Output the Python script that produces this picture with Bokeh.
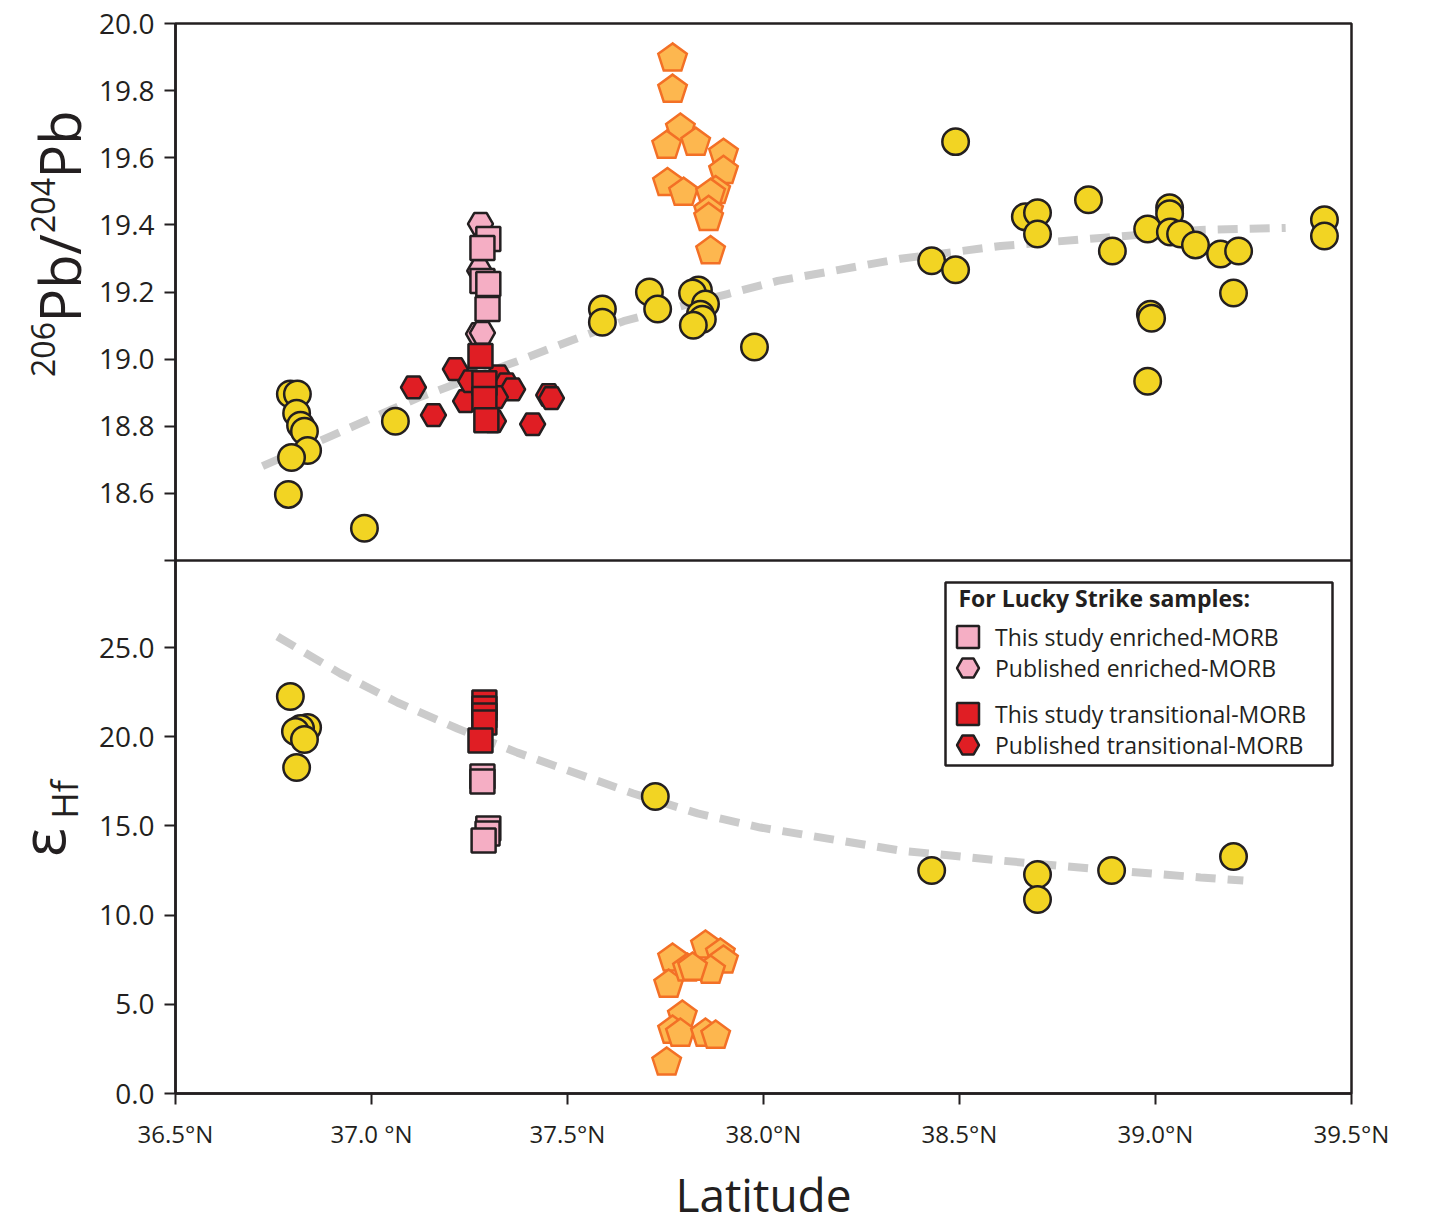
import math

from bokeh.plotting import figure
from bokeh.layouts import row
from bokeh.models import (Range1d, FixedTicker, PrintfTickFormatter, Label, Legend,
                          LegendItem, BoxAnnotation, Span)
from bokeh.embed import file_html
from bokeh.resources import INLINE

# ---------------------------------------------------------------- data
# Ridge basalts, 206Pb/204Pb
ridge_pb_lat = [36.793, 36.811, 36.809, 36.819, 36.829, 36.837, 36.796, 36.788, 36.982, 37.061,
                37.589, 37.589, 37.709, 37.730, 37.834, 37.819, 37.852, 37.839, 37.844, 37.821, 37.977,
                38.429, 38.490, 38.490, 38.668, 38.699, 38.699, 38.829, 38.890, 38.980, 39.036, 39.036,
                39.038, 39.064, 39.102, 39.166, 39.212, 39.199, 38.987, 38.990, 38.980, 39.431, 39.431]
ridge_pb = [18.896, 18.896, 18.839, 18.803, 18.785, 18.728, 18.707, 18.597, 18.496, 18.815,
            19.149, 19.110, 19.200, 19.149, 19.206, 19.197, 19.164, 19.134, 19.119, 19.101, 19.036,
            19.293, 19.648, 19.266, 19.424, 19.436, 19.373, 19.475, 19.322, 19.388, 19.451, 19.433,
            19.379, 19.373, 19.340, 19.313, 19.322, 19.197, 19.134, 19.122, 18.934, 19.415, 19.367]

# Ridge basalts, epsilon Hf
ridge_hf_lat = [36.793, 36.837, 36.819, 36.806, 36.829, 36.809, 37.724, 38.429, 38.699, 38.699,
                38.888, 39.199]
ridge_hf = [22.25, 20.52, 20.46, 20.29, 19.84, 18.27, 16.65, 12.50, 12.28, 10.87, 12.50, 13.28]

# Pentagon group
penta_pb_lat = [37.768, 37.768, 37.788, 37.753, 37.827, 37.898, 37.898, 37.755, 37.796, 37.878,
                37.865, 37.860, 37.860, 37.865]
penta_pb = [19.896, 19.803, 19.687, 19.636, 19.645, 19.612, 19.561, 19.525, 19.496, 19.501,
            19.493, 19.442, 19.421, 19.322]
penta_hf_lat = [37.768, 37.758, 37.806, 37.852, 37.890, 37.898, 37.865, 37.819, 37.793, 37.768,
                37.788, 37.852, 37.878, 37.753]
penta_hf = [7.57, 6.11, 7.01, 8.30, 7.85, 7.46, 6.89, 7.06, 4.37, 3.53, 3.36, 3.36, 3.25, 1.74]

# Lucky Strike: this study, enriched-MORB
enr_study_pb_lat = [37.298, 37.283, 37.283, 37.298, 37.296]
enr_study_pb = [19.358, 19.331, 19.233, 19.224, 19.149]
enr_study_hf_lat = [37.283, 37.283, 37.298, 37.296, 37.286]
enr_study_hf = [17.77, 17.49, 14.85, 14.57, 14.18]

# Lucky Strike: published, enriched-MORB
enr_pub_pb_lat = [37.278, 37.276, 37.273, 37.283]
enr_pub_pb = [19.403, 19.263, 19.075, 19.078]

# Lucky Strike: this study, transitional-MORB
trans_study_pb_lat = [37.278, 37.288, 37.288, 37.293]
trans_study_pb = [19.009, 18.928, 18.881, 18.818]
trans_study_hf_lat = [37.288, 37.288, 37.288, 37.288, 37.278]
trans_study_hf = [21.92, 21.58, 21.19, 20.80, 19.79]

# Lucky Strike: published, transitional-MORB
trans_pub_pb_lat = [37.107, 37.158, 37.214, 37.240, 37.253, 37.324, 37.344, 37.360, 37.316,
                    37.311, 37.411, 37.452, 37.459]
trans_pub_pb = [18.916, 18.833, 18.970, 18.875, 18.934, 18.949, 18.925, 18.910, 18.887,
                18.815, 18.806, 18.893, 18.884]

# Regional trends
pb_trend_lat = [36.722, 36.895, 37.117, 37.372, 37.508, 37.643, 37.908, 38.036, 38.349, 38.605,
                38.860, 39.115, 39.332]
pb_trend = [18.681, 18.770, 18.884, 18.994, 19.055, 19.113, 19.194, 19.233, 19.299, 19.337,
            19.361, 19.385, 19.391]
hf_trend_lat = [36.760, 36.921, 37.066, 37.219, 37.372, 37.668, 37.832, 37.992, 38.349, 38.605,
                38.860, 39.115, 39.224]
hf_trend = [25.62, 23.54, 21.92, 20.46, 19.11, 16.82, 15.70, 14.91, 13.62, 13.06, 12.56, 12.11, 11.94]

# Axis ticks
lat_ticks = [36.5, 37.0, 37.5, 38.0, 38.5, 39.0, 39.5]
lat_tick_labels = ["36.5°N", "37.0 °N", "37.5°N", "38.0°N", "38.5°N", "39.0°N", "39.5°N"]
pb_ticks = [18.4, 18.6, 18.8, 19.0, 19.2, 19.4, 19.6, 19.8, 20.0]
pb_tick_labels = ["", "18.6", "18.8", "19.0", "19.2", "19.4", "19.6", "19.8", "20.0"]
hf_ticks = [0.0, 5.0, 10.0, 15.0, 20.0, 25.0]
hf_tick_labels = ["0.0", "5.0", "10.0", "15.0", "20.0", "25.0"]

# ---------------------------------------------------------------- layout
INK = "#231f20"
FONT = "Open Sans"
YELLOW = "#f2d423"
PINK = "#f5aec4"
RED = "#e01e24"
ORANGE_FILL = "#fdb74f"
ORANGE_LINE = "#f37026"
TREND = "#cbcbcb"

PAGE_W, PAGE_H = 1432, 1229
BORDER_TOP, BORDER_BOTTOM = 23, 136
TITLE_W = 96                         # strip on the left holding the y titles
X_START, X_END = 36.5, 39.5
FRAME_W = 1176
UPPER_H, LOWER_H = 537, 533          # pixel heights of the two stacked panels
FRAME_H = UPPER_H + LOWER_H
PB_DIV, PB_TOP = 18.4, 20.0          # upper panel
HF_BOT, HF_DIV = 0.0, 29.88          # lower panel

pb_per_px = (PB_TOP - PB_DIV) / UPPER_H
hf_per_px = (HF_DIV - HF_BOT) / LOWER_H
PB_BOT = PB_DIV - LOWER_H * pb_per_px
HF_TOP = HF_DIV + UPPER_H * hf_per_px
x_per_px = (X_END - X_START) / FRAME_W


def pb_to_hf(v):
    return HF_DIV + (v - PB_DIV) / pb_per_px * hf_per_px


p = figure(frame_width=FRAME_W, frame_height=FRAME_H,
           x_range=Range1d(X_START, X_END), y_range=Range1d(HF_BOT, HF_TOP),
           output_backend="svg", toolbar_location=None, tools="",
           min_border_left=175 - TITLE_W, min_border_right=81, min_border_top=BORDER_TOP,
           min_border_bottom=BORDER_BOTTOM, background_fill_color="white", border_fill_color="white")
p.extra_y_ranges = {"pb": Range1d(PB_BOT, PB_TOP)}
p.grid.visible = False
p.outline_line_color = INK
p.outline_line_width = 2.5
p.outline_line_alpha = 1.0

for ax in (p.xaxis[0], p.yaxis[0]):
    ax.axis_line_color = INK
    ax.axis_line_width = 2.5
    ax.major_tick_line_color = INK
    ax.major_tick_line_width = 2
    ax.major_tick_in = 0
    ax.major_tick_out = 11
    ax.minor_tick_line_color = None
    ax.major_label_text_font = FONT
    ax.major_label_text_color = INK
    ax.formatter = PrintfTickFormatter(format="%.1f")

xa = p.xaxis[0]
xa.ticker = FixedTicker(ticks=lat_ticks, minor_ticks=[])
xa.major_label_overrides = dict(zip(lat_ticks, lat_tick_labels))
xa.major_label_text_font_size = "24px"
xa.major_label_standoff = 12
xa.axis_label = "Latitude"
xa.axis_label_text_font = FONT
xa.axis_label_text_font_size = "46px"
xa.axis_label_text_font_style = "normal"
xa.axis_label_text_color = INK
xa.axis_label_standoff = 10

ya = p.yaxis[0]
pb_tick_pos = [pb_to_hf(v) for v in pb_ticks]
ya.ticker = FixedTicker(ticks=hf_ticks + pb_tick_pos, minor_ticks=[])
overrides = dict(zip(hf_ticks, hf_tick_labels))
overrides.update(dict(zip(pb_tick_pos, pb_tick_labels)))
ya.major_label_overrides = overrides
ya.major_label_text_font_size = "28px"
ya.major_label_standoff = 10

# divider between the two panels
p.add_layout(Span(location=HF_DIV, dimension="width", line_color=INK, line_width=2.5))

# trend lines
p.line(pb_trend_lat, pb_trend, y_range_name="pb", line_color=TREND, line_width=8,
       line_dash="20 12", line_cap="butt")
p.line(hf_trend_lat, hf_trend, line_color=TREND, line_width=8, line_dash="20 12", line_cap="butt")

# ridge basalts
dot_style = dict(marker="circle", size=26.5, fill_color=YELLOW, line_color=INK, line_width=2.5)
p.scatter(ridge_pb_lat, ridge_pb, y_range_name="pb", **dot_style)
p.scatter(ridge_hf_lat, ridge_hf, **dot_style)


def pentagons(xs, ys, y_per_px, radius=15.0, **kw):
    px, py = [], []
    for x, y in zip(xs, ys):
        px.append([x + radius * math.cos(math.radians(90 + 72 * k)) * x_per_px for k in range(5)])
        py.append([y + radius * math.sin(math.radians(90 + 72 * k)) * y_per_px for k in range(5)])
    p.patches(px, py, fill_color=ORANGE_FILL, line_color=ORANGE_LINE, line_width=2.5,
              line_join="miter", **kw)


pentagons(penta_pb_lat, penta_pb, pb_per_px, y_range_name="pb")
pentagons(penta_hf_lat, penta_hf, hf_per_px)

hex_style = dict(marker="hex", size=25, line_color=INK, line_width=2.5)
sq_style = dict(marker="square", size=24, line_color=INK, line_width=2.5)

r_trans_pub = p.scatter(trans_pub_pb_lat, trans_pub_pb, y_range_name="pb", fill_color=RED, **hex_style)
r_enr_pub = p.scatter(enr_pub_pb_lat, enr_pub_pb, y_range_name="pb", fill_color=PINK, **hex_style)
r_trans_study = p.scatter(trans_study_pb_lat, trans_study_pb, y_range_name="pb", fill_color=RED, **sq_style)
r_enr_study = p.scatter(enr_study_pb_lat, enr_study_pb, y_range_name="pb", fill_color=PINK, **sq_style)
p.scatter(trans_study_hf_lat, trans_study_hf, fill_color=RED, **sq_style)
p.scatter(enr_study_hf_lat, enr_study_hf, fill_color=PINK, **sq_style)

# ---------------------------------------------------------------- legend
p.add_layout(BoxAnnotation(left=770, right=1157, bottom=328, top=511,
                           left_units="screen", right_units="screen",
                           bottom_units="screen", top_units="screen",
                           fill_alpha=0, line_color=INK, line_width=2.5, line_alpha=1))
p.add_layout(Label(x=783, y=496, x_units="screen", y_units="screen",
                   text="For Lucky Strike samples:", text_font=FONT, text_font_size="23px",
                   text_font_style="bold", text_color=INK, text_baseline="alphabetic"))

legend_rows = [("This study enriched-MORB", r_enr_study, 429),
               ("Published enriched-MORB", r_enr_pub, 398),
               ("This study transitional-MORB", r_trans_study, 352),
               ("Published transitional-MORB", r_trans_pub, 321)]
for text, renderer, vy in legend_rows:
    p.add_layout(Legend(items=[LegendItem(label=text, renderers=[renderer])],
                        location=(765, vy), orientation="vertical",
                        glyph_width=55, glyph_height=55, label_height=55,
                        padding=0, margin=0, label_standoff=0,
                        label_text_font=FONT, label_text_font_size="23px", label_text_color=INK,
                        border_line_alpha=0, background_fill_alpha=0))

# ---------------------------------------------------------------- y titles (left strip)
# The strip's frame lines up with the main frame; its y range is "pixels from page bottom".
tf = figure(frame_width=TITLE_W, frame_height=FRAME_H,
            x_range=Range1d(0, TITLE_W),
            y_range=Range1d(BORDER_BOTTOM, PAGE_H - BORDER_TOP),
            output_backend="svg", toolbar_location=None, tools="",
            min_border_left=0, min_border_right=0,
            min_border_top=BORDER_TOP, min_border_bottom=BORDER_BOTTOM,
            x_axis_location=None, y_axis_location=None, outline_line_color=None,
            background_fill_color="white", border_fill_color="white")
tf.grid.visible = False


def vlabel(text, x_mid, y_mid_from_top, size):
    tf.add_layout(Label(x=x_mid, y=PAGE_H - y_mid_from_top, text=text, angle=math.pi / 2,
                        text_font=FONT, text_font_size=size, text_color=INK,
                        text_align="center", text_baseline="middle"))


# 206Pb/204Pb, read bottom to top
vlabel("206", 42, 349, "32px")
vlabel("Pb", 58, 288, "56px")
vlabel("/", 58, 244, "56px")
vlabel("204", 42, 205, "32px")
vlabel("Pb", 58, 144, "56px")

# epsilon Hf
vlabel("ε", 41, 842, "60px")
vlabel("Hf", 64, 799, "36px")

layout = row(tf, p, spacing=0)

with open("out.html", "w", encoding="utf-8") as f:
    f.write(file_html(layout, INLINE, title="Pb and Hf isotopes vs latitude"))
